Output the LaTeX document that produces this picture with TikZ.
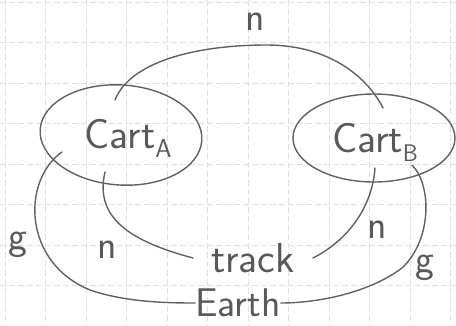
\documentclass[tikz,border=0pt]{standalone}
\usetikzlibrary{shapes.geometric}
\begin{document}
\begin{tikzpicture}[x=1pt,y=-1pt,
  pencil/.style={draw=black!62, line width=1.4pt, line cap=round},
  gridline/.style={draw=black!12, line width=0.8pt, dash pattern=on 6pt off 3pt},
  cart/.style={ellipse, pencil, minimum width=162pt, minimum height=98pt, inner sep=0pt},
  hand/.style={text=black!65, font=\sffamily\fontsize{42}{42}\selectfont, inner sep=0pt},
  lbl/.style={text=black!65, font=\sffamily\fontsize{40}{40}\selectfont, inner sep=0pt}]
\useasboundingbox (0,0) rectangle (456,325);
\fill[white] (0,0) rectangle (456,325);
\foreach \i in {0,...,11} {\draw[gridline] (5+40.5*\i,0) -- (5+40.5*\i,325);}
\foreach \j in {0,...,8} {\draw[gridline] (0,2+40.5*\j) -- (456,2+40.5*\j);}
% carts
\node[cart, rotate=-4, minimum height=100pt] (cA) at (121,135) {};
\node[cart, minimum height=88pt] (cB) at (374,138) {};
\node[hand] (tA) at (128,138) {Cart\raisebox{-9pt}{\fontsize{26}{26}\selectfont A}};
\node[hand] (tB) at (375,142) {Cart\raisebox{-9pt}{\fontsize{24}{24}\selectfont B}};
\node[hand, inner xsep=18pt] (track) at (253,258) {track};
\node[hand, font=\sffamily\fontsize{40}{40}\selectfont] (earth) at (238,303) {Earth};
% connector ends inside the carts
\coordinate (nA) at (115,100);
\coordinate (nB) at (383,108);
\coordinate (tAa) at (105,172);
\coordinate (tBb) at (375,168);
\coordinate (gA) at (62,152);
\coordinate (gB) at (412,165);
% connectors
\draw[pencil] (nA) .. controls (130,62) and (195,45) .. (267,45) .. controls (330,45) and (368,78) .. (nB);
\draw[pencil] (tAa) .. controls (95,215) and (125,240) .. (track.west);
\draw[pencil] (tBb) .. controls (372,210) and (345,242) .. (track.east);
\draw[pencil] (gA) .. controls (22,180) and (22,262) .. (90,290) .. controls (125,302) and (165,303) .. (earth.west);
\draw[pencil] (gB) .. controls (432,185) and (432,240) .. (402,268) .. controls (370,292) and (320,303) .. (earth.east);
% labels
\node[lbl] (ln1) at (255,22) {n};
\node[lbl] (ln2) at (107,250) {n};
\node[lbl] (ln3) at (377,230) {n};
\node[lbl] (lg1) at (18,245) {g};
\node[lbl] (lg2) at (425,268) {g};
\end{tikzpicture}
\end{document}
